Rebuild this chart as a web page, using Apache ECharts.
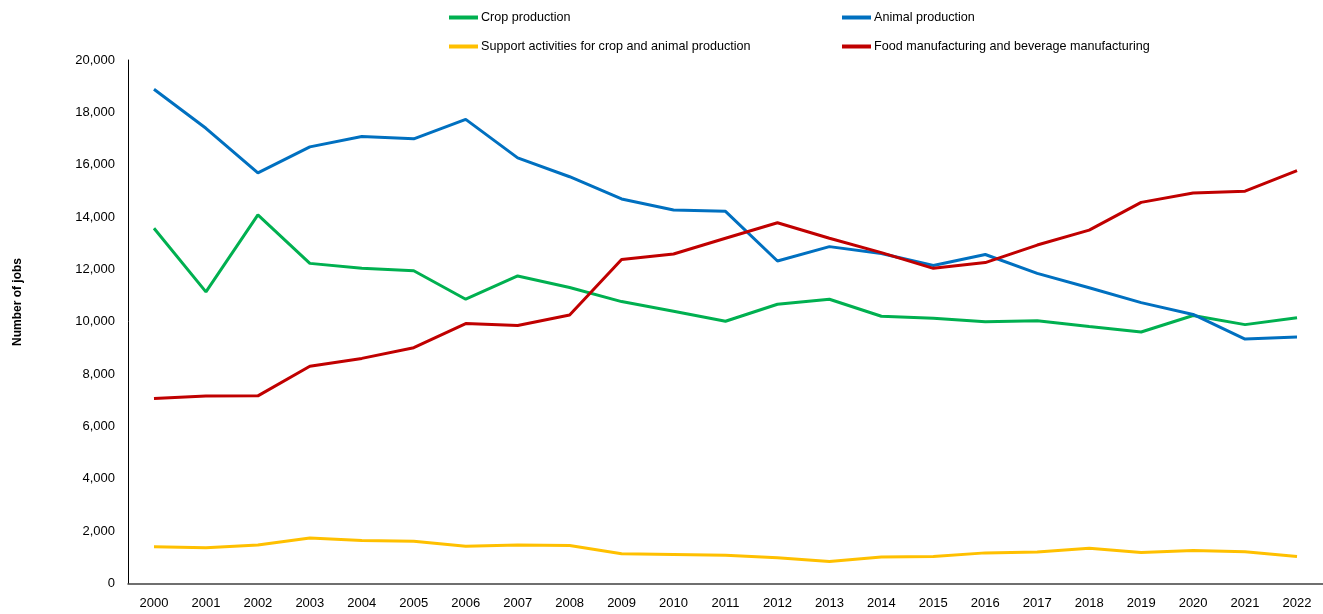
<!DOCTYPE html>
<html><head><meta charset="utf-8">
<script src="https://cdn.jsdelivr.net/npm/echarts@6/dist/echarts.min.js"></script>
<style>html,body{margin:0;padding:0;background:#fff}#c{width:1323px;height:614px}</style>
</head><body><div id="c"></div>
<script>
const years = ['2000','2001','2002','2003','2004','2005','2006','2007','2008','2009','2010','2011','2012','2013','2014','2015','2016','2017','2018','2019','2020','2021','2022'];
const cropProduction = [13570,11140,14080,12230,12040,11950,10860,11750,11310,10770,10400,10020,10670,10860,10210,10130,10000,10040,9820,9610,10240,9890,10150];
const animalProduction = [18880,17390,15690,16680,17080,16990,17730,16260,15540,14690,14270,14220,12320,12870,12610,12150,12570,11850,11300,10730,10280,9340,9420];
const supportActivities = [1400,1370,1470,1740,1640,1610,1420,1470,1450,1140,1110,1080,980,840,1010,1030,1170,1200,1350,1180,1260,1210,1030];
const foodManufacturing = [7070,7160,7170,8300,8600,9010,9930,9860,10260,12380,12590,13190,13780,13190,12640,12040,12260,12930,13500,14560,14920,14990,15770];
const seriesNames = ['Crop production','Animal production','Support activities for crop and animal production','Food manufacturing and beverage manufacturing'];
const colors = ['#00B050','#0070C0','#FFC000','#C00000'];
const yTicks = {min:0, max:20000, interval:2000};

const chart = echarts.init(document.getElementById('c'), null, {renderer:'canvas'});
const font = 'Liberation Sans, Arial, sans-serif';
const legendBase = {
  orient:'vertical', itemWidth:29, itemHeight:4, itemGap:16, icon:'rect', padding:0,
  textStyle:{fontFamily:font, fontSize:12.6, color:'#000', padding:[0,0,0,-2]},
  selectedMode:false
};
const datas = [cropProduction, animalProduction, supportActivities, foodManufacturing];
chart.setOption({
  animation:false,
  color: colors,
  legend:[
    Object.assign({}, legendBase, {data:[seriesNames[0], seriesNames[2]], left:449, top:11}),
    Object.assign({}, legendBase, {data:[seriesNames[1], seriesNames[3]], left:842, top:11})
  ],
  grid:{left:128, right:0, top:60, bottom:30.5, containLabel:false},
  xAxis:{
    type:'category', data:years, boundaryGap:true,
    axisLine:{lineStyle:{color:'#404040', width:1.5}},
    axisTick:{show:false},
    axisLabel:{fontFamily:font, fontSize:13, color:'#000', margin:13}
  },
  yAxis:{
    type:'value', min:yTicks.min, max:yTicks.max, interval:yTicks.interval,
    axisLine:{show:true, lineStyle:{color:'#000', width:1}},
    axisTick:{show:false},
    splitLine:{show:false},
    axisLabel:{fontFamily:font, fontSize:13, color:'#000', margin:13,
      formatter:v=>v.toLocaleString('en-US')}
  },
  graphic:[{
    type:'text', x:18, y:302, rotation:Math.PI/2,
    style:{text:'Number of jobs', fontFamily:font, fontSize:12, fontWeight:'bold', fill:'#000', align:'center', verticalAlign:'middle'}
  }],
  series: seriesNames.map((n,i)=>({
    name:n, type:'line', data:datas[i], symbol:'none', smooth:false,
    lineStyle:{width:3, color:colors[i]}, itemStyle:{color:colors[i]}
  }))
});
</script></body></html>
